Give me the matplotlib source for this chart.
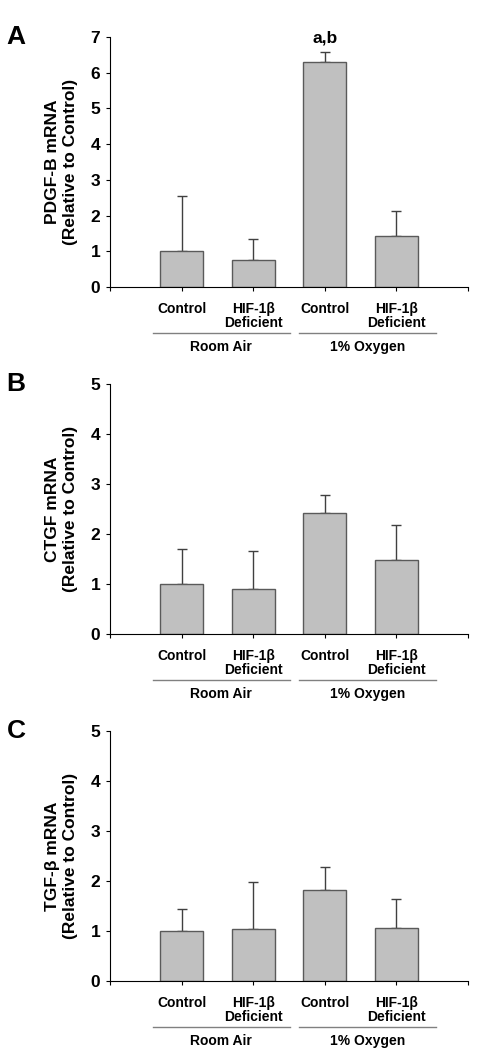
import matplotlib.pyplot as plt
import numpy as np

plt.rcParams['font.family'] = ['Liberation Sans', 'DejaVu Sans']
plt.rcParams['font.weight'] = 'bold'

groups = ['Control', 'HIF-1β\nDeficient', 'Control', 'HIF-1β\nDeficient']
conditions = ['Room Air', '1% Oxygen']

pdgf_mean = [1.0, 0.75, 6.31, 1.44]
pdgf_err = [1.56, 0.60, 0.26, 0.70]
ctgf_mean = [1.0, 0.89, 2.41, 1.48]
ctgf_err = [0.70, 0.76, 0.36, 0.69]
tgf_mean = [1.0, 1.05, 1.82, 1.06]
tgf_err = [0.45, 0.94, 0.47, 0.59]

panels = [
    ('A', 'PDGF-B mRNA\n(Relative to Control)', pdgf_mean, pdgf_err, 7),
    ('B', 'CTGF mRNA\n(Relative to Control)', ctgf_mean, ctgf_err, 5),
    ('C', 'TGF-β mRNA\n(Relative to Control)', tgf_mean, tgf_err, 5),
]
bottoms = [0.7267, 0.3962, 0.0657]

fig = plt.figure(figsize=(4.87, 10.5), dpi=100)
x = np.arange(1, 5)

for (letter, ylab, mean, err, ymax), b in zip(panels, bottoms):
    ax = fig.add_axes((0.2259, b, 0.735, 0.2381))
    ax.bar(x, mean, width=0.6, color='#c0c0c0', edgecolor='#5a5a5a',
           linewidth=1, zorder=2)
    ax.errorbar(x, mean, yerr=[np.zeros(4), err], fmt='none',
                ecolor='#404040', elinewidth=1, capsize=3.3, capthick=1,
                zorder=1)
    ax.set_xlim(0, 5)
    ax.set_ylim(0, ymax)
    ax.set_yticks(range(ymax + 1))
    ax.set_xticks(range(6))
    ax.set_xticklabels([])
    ax.spines.right.set_visible(False)
    ax.spines.top.set_visible(False)
    ax.tick_params(axis='y', direction='out', length=3, labelsize=12.5, pad=4)
    ax.tick_params(axis='x', direction='out', length=3)
    ax.set_ylabel(ylab, fontsize=12.5, fontweight='bold', labelpad=9,
                  linespacing=1.25)

    tr = ax.get_xaxis_transform()
    for xi, g in zip(x, groups):
        ax.text(xi, -0.06, g, transform=tr, ha='center', va='top',
                fontsize=10, fontweight='bold', linespacing=1.0)
    for (x0, x1), c in zip([(0.6, 2.51), (2.64, 4.55)], conditions):
        ax.plot([x0, x1], [-0.184, -0.184], transform=tr, color='#808080',
                lw=1, clip_on=False)
        ax.text((x0 + x1) / 2, -0.24, c, transform=tr, ha='center',
                va='center', fontsize=10, fontweight='bold')

    # panel letter, placed in figure pixels
    fig.text(16 / 487, b + 0.2381, letter, fontsize=19, fontweight='bold',
             ha='center', va='center')

    if letter == 'A':
        ax.text(3, 6.98, 'a,b', ha='center', va='center', fontsize=12.5,
                fontweight='bold')

fig.savefig('out.png', dpi=100)
